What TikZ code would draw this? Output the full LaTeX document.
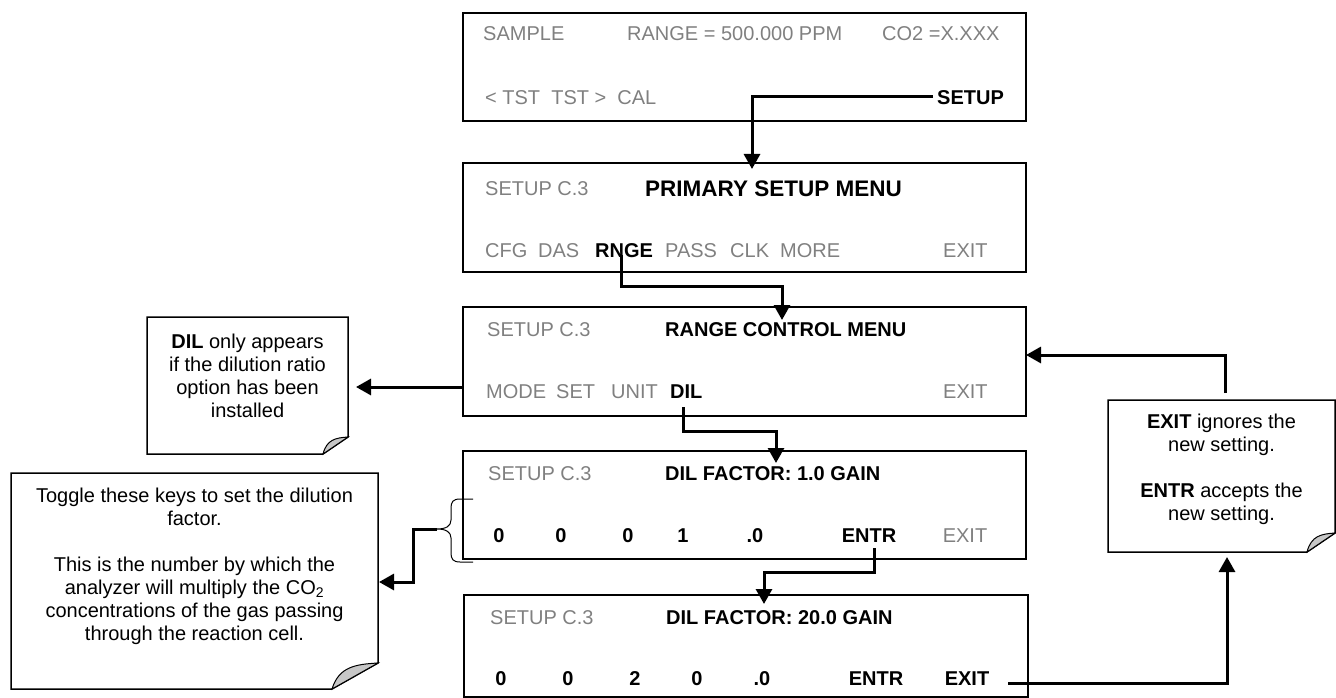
\documentclass[tikz,border=0pt]{standalone}
\usepackage{fontspec}
\setmainfont{Liberation Sans}
\usetikzlibrary{arrows.meta,calc}
\definecolor{keygray}{RGB}{128,128,128}
\tikzset{
  scr/.style={draw=black, line width=1.5pt, inner sep=0pt, outer sep=0pt},
  lbl/.style={anchor=west, inner sep=0pt, font=\fontsize{20}{24}\selectfont, text height=14.3pt, text depth=0pt, text=keygray},
  key/.style={lbl, font=\fontsize{20}{24}\selectfont\bfseries, text=black},
  keyc/.style={key, anchor=center},
  bigttl/.style={key, font=\fontsize{22.5}{27}\selectfont\bfseries, text height=16.1pt},
  conn/.style={line width=3pt, -{Triangle[length=15pt,width=16pt]}},
  notebase/.style={inner sep=0pt, outer sep=0pt},
  notetext/.style={align=center, font=\fontsize{20}{23}\selectfont, inner sep=0pt},
  noteline/.style={draw=black, line width=1.5pt},
  curl/.style={draw=black, line width=1pt, fill=black!22},
  bracel/.style={draw=black, line width=1pt},
}
\newcommand\drawnote[3]{%
  \draw[noteline] (#1.north west) -- (#1.north east) -- ([yshift=#3]#1.south east)
     -- ([xshift=-#2]#1.south east) -- (#1.south west) -- cycle;
  \draw[curl] ([xshift=-#2]#1.south east) -- ([yshift=#3]#1.south east)
     .. controls ([xshift=-0.5*#2, yshift=0.95*#3]#1.south east) and ([xshift=-0.85*#2, yshift=0.85*#3]#1.south east) .. ([xshift=-#2]#1.south east) -- cycle;
}
\begin{document}
\begin{tikzpicture}[x=1pt,y=-1pt]
\useasboundingbox (0,0) rectangle (1336,698);

% ---------- screens ----------
\node[scr, minimum width=563pt, minimum height=108pt] (b1) at (744.5,67) {};
\node[scr, minimum width=563pt, minimum height=109pt] (b2) at (744.5,217.5) {};
\node[scr, minimum width=563pt, minimum height=109pt] (b3) at (744.5,361.5) {};
\node[scr, minimum width=563pt, minimum height=108pt] (b4) at (744.5,505) {};
\node[scr, minimum width=564pt, minimum height=102pt] (b5) at (746,646) {};

% screen 1
\node[lbl] (s1a) at (483,33) {SAMPLE};
\node[lbl] (s1b) at (627,33) {RANGE = 500.000 PPM};
\node[lbl] (s1c) at (882,33) {CO2 =X.XXX};
\node[lbl] (s1d) at (485,97) {< TST\ \ TST >\ \ CAL};
\node[key] (setupkey) at (937,97) {SETUP};

% screen 2
\node[lbl] (s2a) at (485,188) {SETUP C.3};
\node[bigttl] (s2b) at (645,188) {PRIMARY SETUP MENU};
\node[lbl] (s2c) at (485,250) {CFG};
\node[lbl] (s2d) at (538,250) {DAS};
\node[key] (rngekey) at (595,250) {RNGE};
\node[lbl] (s2e) at (665,250) {PASS};
\node[lbl] (s2f) at (730,250) {CLK};
\node[lbl] (s2g) at (780,250) {MORE};
\node[lbl] (s2h) at (943,250) {EXIT};

% screen 3
\node[lbl] (s3a) at (487,329) {SETUP C.3};
\node[key] (s3b) at (665,329) {RANGE CONTROL MENU};
\node[lbl] (s3c) at (486,391) {MODE};
\node[lbl] (s3d) at (556,391) {SET};
\node[lbl] (s3e) at (611,391) {UNIT};
\node[key] (dilkey) at (670,391) {DIL};
\node[lbl] (s3f) at (943,391) {EXIT};

% screen 4
\node[lbl] (s4a) at (488,473) {SETUP C.3};
\node[key] (s4b) at (665,473) {DIL FACTOR: 1.0 GAIN};
\node[keyc] (s4c) at (499,535) {0};
\node[keyc] (s4d) at (561,535) {0};
\node[keyc] (s4e) at (628,535) {0};
\node[keyc] (s4f) at (683,535) {1};
\node[keyc] (s4g) at (755,535) {.0};
\node[keyc] (entrkey) at (869,535) {ENTR};
\node[lbl, anchor=center] (s4h) at (965,535) {EXIT};

% screen 5
\node[lbl] (s5a) at (490,617) {SETUP C.3};
\node[key] (s5b) at (666,617) {DIL FACTOR: 20.0 GAIN};
\node[keyc] (s5c) at (501,678) {0};
\node[keyc] (s5d) at (568,678) {0};
\node[keyc] (s5e) at (635,678) {2};
\node[keyc] (s5f) at (697,678) {0};
\node[keyc] (s5g) at (762,678) {.0};
\node[keyc] (s5h) at (876,678) {ENTR};
\node[keyc] (exitkey) at (967,678) {EXIT};

% ---------- notes ----------
\node[notebase, minimum width=201pt, minimum height=137pt] (n1) at (247.5,385.5) {};
\drawnote{n1}{25pt}{17pt}
\node[notetext] (n1t) at (247.5,376) {\textbf{DIL} only appears\\if the dilution ratio\\option has been\\installed};

\node[notebase, minimum width=367pt, minimum height=216pt] (n2) at (194.5,581) {};
\drawnote{n2}{46pt}{26pt}
\node[notetext] (n2t) at (194.5,566) {Toggle these keys to set the dilution\\factor.\\[23pt]This is the number by which the\\analyzer will multiply the CO\textsubscript{2}\\concentrations of the gas passing\\through the reaction cell.};

\node[notebase, minimum width=227pt, minimum height=152pt] (n3) at (1221.5,476) {};
\drawnote{n3}{28pt}{19pt}
\node[notetext] (n3t) at (1221.5,469) {\textbf{EXIT} ignores the\\new setting.\\[23pt]\textbf{ENTR} accepts the\\new setting.};

% ---------- brace ----------
\coordinate (bracetip) at (437,529);
\draw[bracel] (473,499) -- (460,499) .. controls (453,499) and (451,502) .. (451,508) -- (451,520)
  .. controls (451,526) and (446,529) .. (bracetip)
  .. controls (446,529) and (451,532) .. (451,538) -- (451,553)
  .. controls (451,559) and (453,562) .. (460,562) -- (473,562);

% ---------- connectors ----------
\coordinate (t2) at (752,169);
\draw[conn] ([xshift=-4pt]setupkey.west) -| (t2);

\coordinate (r1) at (621,255);
\coordinate (t3) at (782,320);
\draw[conn] (r1) -- (621,286) -| (t3);

\coordinate (d1) at (683,407);
\coordinate (t4) at (776,463);
\draw[conn] (d1) -- (683,431) -| (t4);

\coordinate (e1) at (874,548);
\coordinate (t5) at (764,604);
\draw[conn] (e1) -- (874,572) -| (t5);

\coordinate (a3s) at (463,387);
\draw[conn, shorten >=8pt] (a3s) -- (a3s -| n1.east);

\coordinate (n2in) at (379,582);
\draw[conn] (bracetip) -- (413,529) -- (413,582) -- (n2in);

\coordinate (x1) at (1008,683);
\coordinate (n3in) at (1227,557);
\draw[conn] (x1) -| (n3in);

\coordinate (n3top) at (1225,393);
\coordinate (b3in) at (1026,355);
\draw[conn] (n3top) -- (1225,355) -- (b3in);
\end{tikzpicture}
\end{document}
